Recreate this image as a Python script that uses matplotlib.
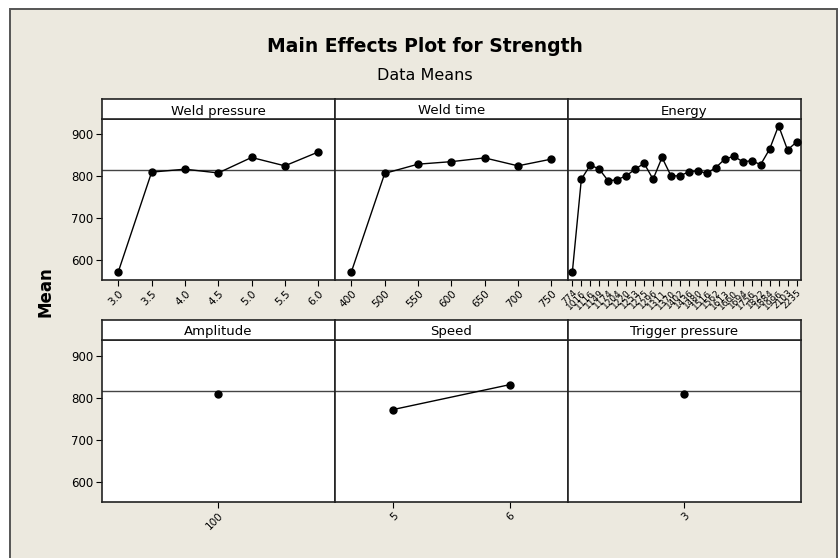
import matplotlib
matplotlib.use("Agg")
import matplotlib.pyplot as plt
from matplotlib.patches import Rectangle

# Factor levels and mean strength at each level
weld_pressure = [3.0, 3.5, 4.0, 4.5, 5.0, 5.5, 6.0]
weld_pressure_mean = [572, 810, 817, 808, 845, 825, 858]

weld_time = [400, 500, 550, 600, 650, 700, 750]
weld_time_mean = [572, 807, 829, 835, 844, 825, 841]

energy = [774, 1016, 1116, 1149, 1174, 1204, 1220, 1253, 1275, 1296, 1311, 1370, 1402,
          1436, 1480, 1516, 1562, 1613, 1660, 1694, 1756, 1822, 1884, 1996, 2103, 2235]
energy_mean = [572, 793, 827, 817, 789, 792, 801, 817, 831, 793, 845, 801, 801,
               811, 813, 807, 821, 841, 848, 835, 837, 828, 865, 921, 863, 882]

amplitude = [100]
amplitude_mean = [810]

speed = [5, 6]
speed_mean = [772, 831]

trigger_pressure = [3]
trigger_pressure_mean = [810]

grand_mean = 815

W, H = 840, 558
fig = plt.figure(figsize=(W / 100, H / 100), dpi=100)
fig.patch.set_facecolor("white")

beige = "#ECE9DF"
fig.patches.append(Rectangle((10 / W, -0.02), 827 / W, 1.02 - 9 / H,
                             transform=fig.transFigure, facecolor=beige,
                             edgecolor="#555555", lw=1.4, zorder=-5))

fig.text(425 / W, 1 - 47 / H, "Main Effects Plot for Strength", ha="center", va="center",
         fontsize=13.5, fontweight="bold")
fig.text(425 / W, 1 - 75 / H, "Data Means", ha="center", va="center", fontsize=11.5)
fig.text(46 / W, 1 - 292 / H, "Mean", ha="center", va="center", rotation=90,
         fontsize=12, fontweight="bold")

left = 101.7
pw = 233.1
rows = [(119, 280), (340, 502.3)]
strip_h = 20

panels = [
    ("Weld pressure", weld_pressure_mean, [f"{v:.1f}" for v in weld_pressure], 0, 0),
    ("Weld time", weld_time_mean, [str(v) for v in weld_time], 0, 1),
    ("Energy", energy_mean, [str(v) for v in energy], 0, 2),
    ("Amplitude", amplitude_mean, [str(v) for v in amplitude], 1, 0),
    ("Speed", speed_mean, [str(v) for v in speed], 1, 1),
    ("Trigger pressure", trigger_pressure_mean, [str(v) for v in trigger_pressure], 1, 2),
]

for title, means, labels, r, c in panels:
    top, bot = rows[r]
    x0 = (left + c * pw) / W
    ax = fig.add_axes([x0, 1 - bot / H, pw / W, (bot - top) / H])
    ax.set_facecolor("white")

    # levels are categorical, half a step of padding on each side
    n = len(labels)
    xs = list(range(n))
    ax.set_xlim(-0.5, n - 0.5)
    ax.set_ylim(552, 937)

    ax.axhline(grand_mean, color="#444444", lw=1.0, zorder=1)
    ax.plot(xs, means, color="black", lw=1.0, marker="o", markersize=5, zorder=3)

    ax.set_xticks(xs)
    fs = 6.5 if n > 20 else 7.5
    ax.set_xticklabels(labels, rotation=45, ha="right", rotation_mode="anchor", fontsize=fs)
    ax.tick_params(axis="x", length=4, width=0.8, pad=2, direction="out")
    if c == 0:
        ax.set_yticks([600, 700, 800, 900])
        ax.tick_params(axis="y", length=4, width=0.8, labelsize=8.5, pad=2)
    else:
        ax.set_yticks([])
    for s in ax.spines.values():
        s.set_linewidth(1.2)
        s.set_color("#222222")

    sax = fig.add_axes([x0, 1 - top / H, pw / W, strip_h / H])
    sax.set_facecolor("white")
    sax.set_xticks([])
    sax.set_yticks([])
    for s in sax.spines.values():
        s.set_linewidth(1.2)
        s.set_color("#222222")
    sax.text(0.5, 0.4, title, ha="center", va="center", fontsize=9.5,
             transform=sax.transAxes)

fig.savefig("out.png", dpi=100, facecolor=fig.get_facecolor())
